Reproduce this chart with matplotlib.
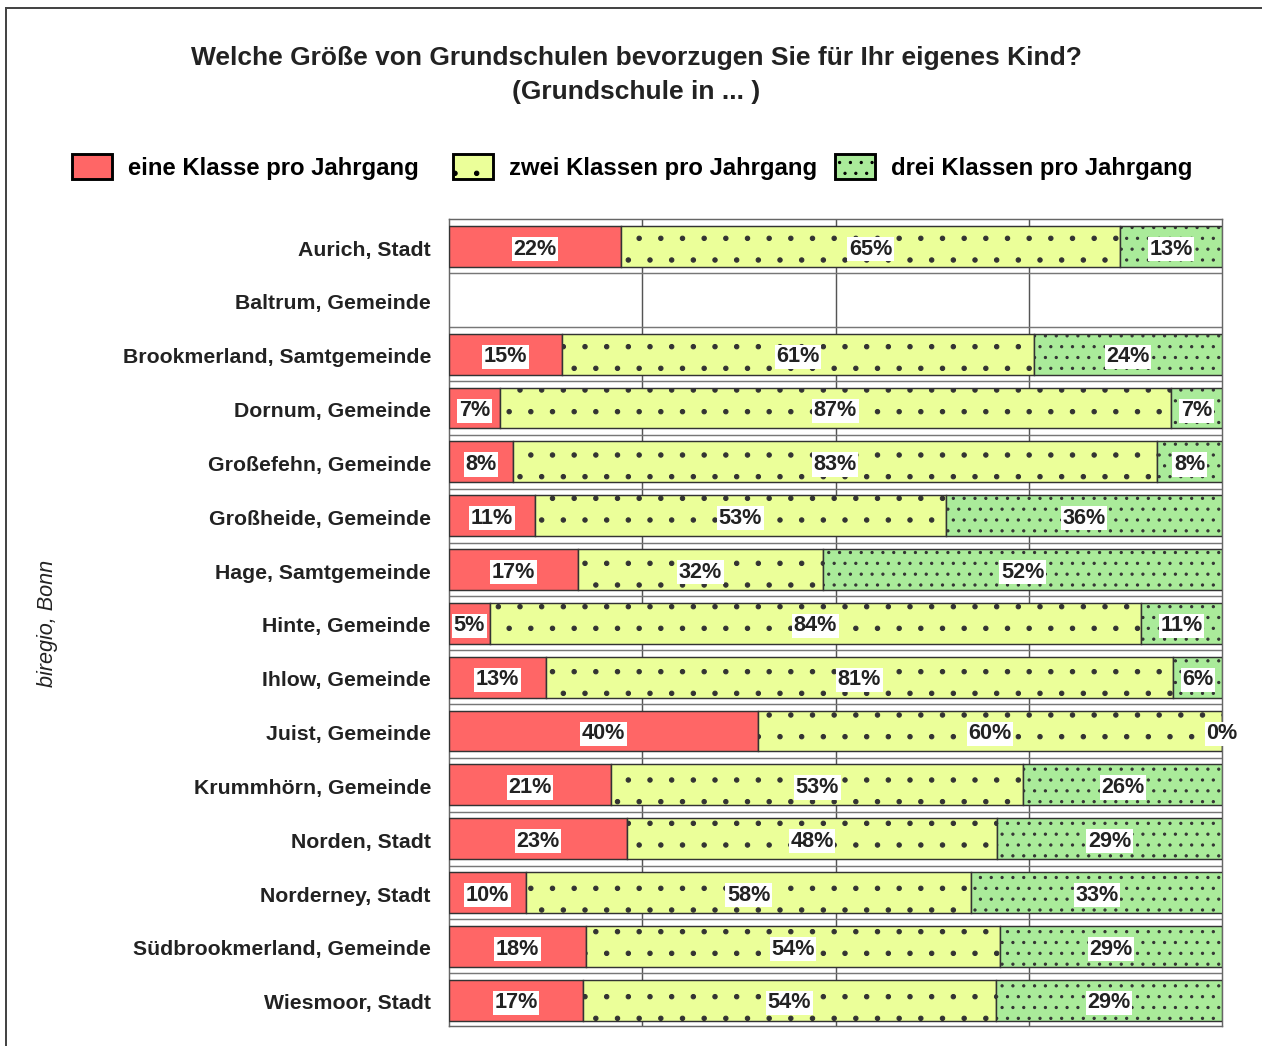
import matplotlib.pyplot as plt
from matplotlib.patches import Patch
from matplotlib.lines import Line2D

plt.rcParams['font.family'] = ['Liberation Sans', 'DejaVu Sans']
plt.rcParams['hatch.linewidth'] = 0.6

gemeinden = ["Aurich, Stadt", "Baltrum, Gemeinde", "Brookmerland, Samtgemeinde",
             "Dornum, Gemeinde", "Großefehn, Gemeinde", "Großheide, Gemeinde",
             "Hage, Samtgemeinde", "Hinte, Gemeinde", "Ihlow, Gemeinde",
             "Juist, Gemeinde", "Krummhörn, Gemeinde", "Norden, Stadt",
             "Norderney, Stadt", "Südbrookmerland, Gemeinde", "Wiesmoor, Stadt"]

# shares (None = no answers)
eine = [22.3, None, 14.6, 6.6, 8.3, 11.1, 16.7, 5.3, 12.5, 40.0, 21.0, 23.0, 10.0, 17.7, 17.3]
zwei = [64.5, None, 61.1, 86.8, 83.3, 53.2, 31.7, 84.2, 81.2, 60.0, 53.3, 47.9, 57.5, 53.6, 53.5]
drei = [13.2, None, 24.3, 6.6, 8.4, 35.7, 51.6, 10.5, 6.3, 0.0, 25.7, 29.1, 32.6, 28.7, 29.2]

# printed labels
eine_lbl = [22, None, 15, 7, 8, 11, 17, 5, 13, 40, 21, 23, 10, 18, 17]
zwei_lbl = [65, None, 61, 87, 83, 53, 32, 84, 81, 60, 53, 48, 58, 54, 54]
drei_lbl = [13, None, 24, 7, 8, 36, 52, 11, 6, 0, 26, 29, 33, 29, 29]

serien = ["eine Klasse pro Jahrgang", "zwei Klassen pro Jahrgang", "drei Klassen pro Jahrgang"]
farben = ["#ff6666", "#ebff99", "#aaeb9a"]
muster = [None, ".", ".."]

# dpi 130 so the dot hatching gets the wider spacing of the original
DPI = 130
fig = plt.figure(figsize=(1262 / DPI, 1046 / DPI), dpi=DPI)
ax = fig.add_axes([449 / 1262, 1 - 1026 / 1046, 773 / 1262, 807 / 1046])

ypos = list(range(len(gemeinden)))
werte = [eine, zwei, drei]
labels = [eine_lbl, zwei_lbl, drei_lbl]

for i in ypos:
    if eine[i] is None:
        continue
    left = 0
    for s in range(3):
        w = werte[s][i]
        ax.barh(i - 0.03, w, left=left, height=0.76, color=farben[s], hatch=muster[s],
                edgecolor="#333333", linewidth=0.8, zorder=3)
        ax.text(left + w / 2, i + 0.02, f"{labels[s][i]}%", ha="center", va="center",
                fontsize=12.0, fontweight="bold", color="#222222", zorder=5,
                bbox=dict(facecolor="white", edgecolor="none", pad=0.8))
        left += w

# grid
for x in [25, 50, 75]:
    ax.axvline(x, color="#555555", linewidth=0.8, zorder=1)
for i in ypos[:-1]:
    ax.axhline(i + 0.47, color="#777777", linewidth=0.8, zorder=1)

ax.set_xlim(0, 100)
ax.set_ylim(14.45, -0.54)
ax.set_yticks(ypos)
ax.set_yticklabels(gemeinden, fontsize=11.8, fontweight="bold", color="#222222")
ax.tick_params(axis="y", length=0, pad=10)
ax.set_xticks([])
for sp in ax.spines.values():
    sp.set_color("#666666")
    sp.set_linewidth(0.8)

fig.text(636 / 1262, 1 - 75 / 1046,
         "Welche Größe von Grundschulen bevorzugen Sie für Ihr eigenes Kind?\n(Grundschule in ... )",
         ha="center", va="center", fontsize=14.6, fontweight="bold", color="#222222",
         linespacing=1.5)

fig.text(48 / 1262, 1 - 623 / 1046, "biregio, Bonn", rotation=90, ha="center", va="center",
         fontsize=12.0, fontstyle="italic", color="#222222")

# legend entries placed one by one, like in the original
legend_x = [72, 453, 835]
for s in range(3):
    h = Patch(facecolor=farben[s], hatch=muster[s], edgecolor="black", linewidth=1.6)
    fig.legend([h], [serien[s]], loc="center left",
               bbox_to_anchor=(legend_x[s] / 1262, 1 - 167 / 1046),
               frameon=False, borderpad=0, borderaxespad=0,
               handlelength=1.67, handleheight=1.21, handletextpad=0.68,
               prop={"weight": "bold", "size": 13.25})

# outer frame
fig.add_artist(Line2D([6 / 1262, 1], [1 - 8 / 1046, 1 - 8 / 1046], color="#444444", linewidth=1.1))
fig.add_artist(Line2D([6 / 1262, 6 / 1262], [0, 1 - 8 / 1046], color="#444444", linewidth=1.1))

fig.savefig("out.png", dpi=DPI)
